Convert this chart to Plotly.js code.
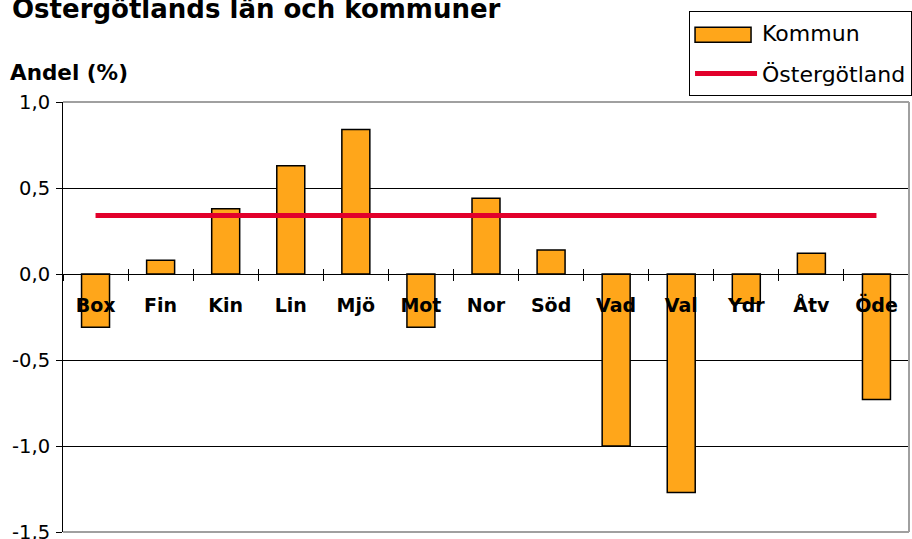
<!DOCTYPE html>
<html>
<head>
<meta charset="utf-8">
<script src="https://cdn.plot.ly/plotly-3.0.1.min.js"></script>
<style>
  html, body { margin: 0; padding: 0; background: #fff; }
  #chart { width: 912px; height: 539px; }
</style>
</head>
<body>
<div id="chart"></div>
<script>
const categories = ['Box', 'Fin', 'Kin', 'Lin', 'Mjö', 'Mot', 'Nor', 'Söd', 'Vad', 'Val', 'Ydr', 'Åtv', 'Öde']
const kommunValues = [-0.31, 0.08, 0.38, 0.63, 0.84, -0.31, 0.44, 0.14, -1.00, -1.27, -0.17, 0.12, -0.73]
const lanValues = [0.34, 0.34, 0.34, 0.34, 0.34, 0.34, 0.34, 0.34, 0.34, 0.34, 0.34, 0.34, 0.34]
const yTickVals = [-1.5, -1.0, -0.5, 0.0, 0.5, 1.0]
const yTickText = ['-1,5', '-1,0', '-0,5', '0,0', '0,5', '1,0']

const font = 'DejaVu Sans, Arial, sans-serif'
const yMin = -1.5, yMax = 1.0
const zeroPos = (0 - yMin) / (yMax - yMin) // where 0 sits in the y domain

const traces = [
    {
        type: 'bar',
        name: 'Kommun',
        legendgroup: 'a',
        x: categories,
        y: kommunValues,
        marker: { color: '#ffa61a', line: { color: '#000', width: 1.5 } },
        xaxis: 'x',
        yaxis: 'y'
    },
    {
        type: 'scatter',
        mode: 'lines',
        name: 'Östergötland',
        legendgroup: 'b',
        x: categories,
        y: lanValues,
        line: { color: '#e2002b', width: 5 },
        xaxis: 'x2',
        yaxis: 'y'
    }
]

const border = { color: '#a0a0a0', width: 2 }

const layout = {
    width: 912,
    height: 539,
    margin: { l: 63, r: 3, t: 102, b: 7, autoexpand: false },
    paper_bgcolor: '#fff',
    plot_bgcolor: '#fff',
    font: { family: font, color: '#000' },
    title: {
        text: '<b>Östergötlands län och kommuner</b>',
        font: { family: font, size: 26, color: '#000' },
        x: 12 / 912,
        xanchor: 'left',
        xref: 'container',
        yref: 'container',
        y: 1 - 9 / 539,
        yanchor: 'middle'
    },
    bargap: 0.57,
    showlegend: true,
    legend: {
        x: 0.74,
        xanchor: 'left',
        y: 1.2116,
        yanchor: 'top',
        bgcolor: '#fff',
        bordercolor: '#000',
        borderwidth: 1,
        traceorder: 'grouped',
        tracegroupgap: 9,
        font: { family: font, size: 22, color: '#000' },
        itemwidth: 62
    },
    xaxis: {
        type: 'category',
        range: [-0.5, 12.5],
        anchor: 'free',
        position: zeroPos,
        showline: true,
        linecolor: '#000',
        linewidth: 1,
        ticks: 'outside',
        tickson: 'boundaries',
        ticklen: 6,
        tickcolor: '#000',
        tickfont: { family: font, size: 19, color: '#000', weight: 'bold' },
        ticklabelstandoff: 14,
        showgrid: false,
        zeroline: false,
        fixedrange: true
    },
    xaxis2: {
        type: 'category',
        overlaying: 'x',
        range: [-0.5, 12.5],
        anchor: 'free',
        position: zeroPos,
        showline: false,
        ticks: 'inside',
        tickson: 'boundaries',
        ticklen: 5,
        tickcolor: '#000',
        showticklabels: false,
        showgrid: false,
        zeroline: false
    },
    yaxis: {
        range: [yMin, yMax],
        tickvals: yTickVals,
        ticktext: yTickText,
        tickfont: { family: font, size: 19.5, color: '#000' },
        ticklabeloverflow: 'allow',
        ticklabelstandoff: 2,
        showline: true,
        linecolor: '#000',
        linewidth: 1,
        ticks: 'outside',
        ticklen: 6,
        tickcolor: '#000',
        showgrid: true,
        gridcolor: '#000',
        gridwidth: 1,
        zeroline: false,
        fixedrange: true
    },
    shapes: [
        { type: 'line', xref: 'paper', yref: 'paper', x0: 0, x1: 1, y0: 1, y1: 1, line: border, layer: 'above' },
        { type: 'line', xref: 'paper', yref: 'paper', x0: 1, x1: 1, y0: 0, y1: 1, line: border, layer: 'above' },
        { type: 'line', xref: 'paper', yref: 'paper', x0: 0, x1: 1, y0: 0, y1: 0, line: border, layer: 'above' }
    ],
    annotations: [
        {
            text: '<b>Andel (%)</b>',
            xref: 'paper',
            yref: 'paper',
            x: -55 / 846,
            xanchor: 'left',
            y: (532 - 72) / 430,
            yanchor: 'middle',
            showarrow: false,
            font: { family: font, size: 21.5, color: '#000' }
        }
    ]
}

Plotly.newPlot('chart', traces, layout, { displayModeBar: false, staticPlot: true }).then(gd => {
    // widen the bar swatch in the legend to match the line swatch
    const items = gd.querySelectorAll('.legend .traces')
    if (items.length < 2) return
    const bar = items[0].querySelector('.legendpoints path')
    const line = items[1].querySelector('.legendlines path')
    if (!bar || !line) return
    const bb = bar.getBBox()
    const br = bar.getBoundingClientRect()
    const lr = line.getBoundingClientRect()
    const x0 = bb.x + (lr.left - br.left)
    const cy = bb.y + bb.height / 2 + 2
    bar.setAttribute('d', `M${x0},${cy - 7.5}h56v15h-56Z`)
})
</script>
</body>
</html>
